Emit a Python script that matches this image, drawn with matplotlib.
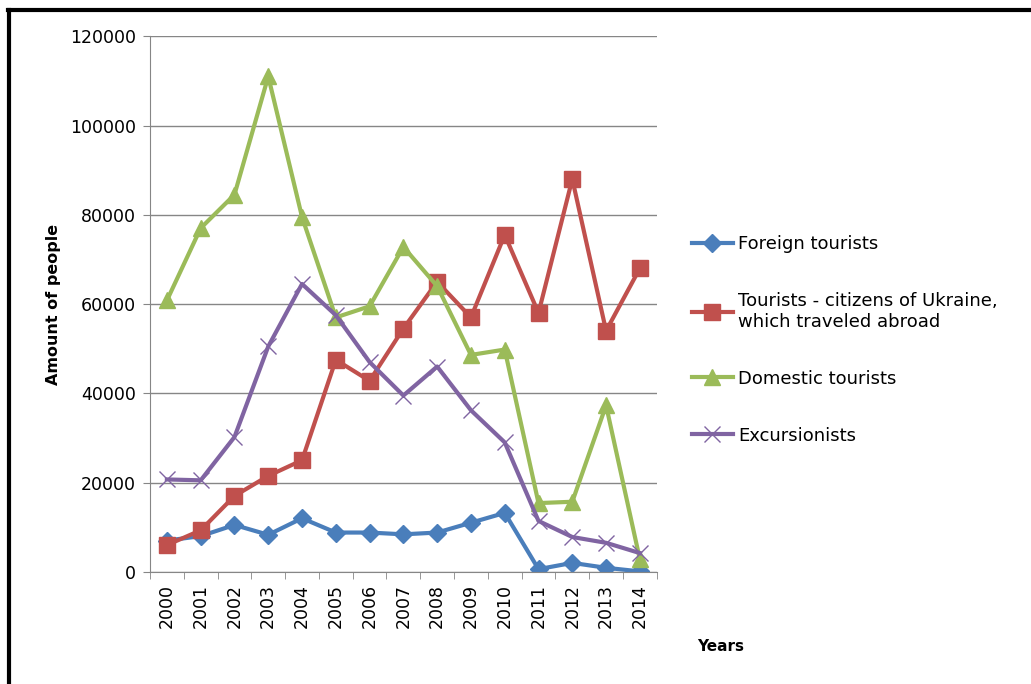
import numpy as np
import matplotlib
matplotlib.use("Agg")
import matplotlib.pyplot as plt
from matplotlib.lines import Line2D

# Data
years = [str(y) for y in range(2000, 2015)]
foreign = [7000, 8000, 10500, 8300, 12000, 8800, 8800, 8400, 8800, 11000, 13200, 600, 2000, 900, 100]
abroad = [6000, 9300, 17000, 21500, 25000, 47500, 42800, 54500, 65000, 57000, 75500, 58000, 88000, 54000, 68000]
domestic = [60800, 77000, 84500, 111000, 79500, 57000, 59500, 72800, 64000, 48600, 49800, 15400, 15700, 37300, 2800]
excursionists = [20700, 20500, 30200, 50500, 64500, 57500, 47000, 39500, 46000, 36200, 29000, 11400, 7800, 6500, 4200]
labels = ["Foreign tourists",
          "Tourists - citizens of Ukraine,\nwhich traveled abroad",
          "Domestic tourists",
          "Excursionists"]

fig = plt.figure(figsize=(10.31, 6.84), dpi=100)
ax = fig.add_axes([0.1455, 0.164, 0.4915, 0.783])

x = np.arange(len(years))
ax.plot(x, foreign, color='#4a7ebb', lw=3, marker='D', ms=9, label=labels[0])
ax.plot(x, abroad, color='#c0504d', lw=3, marker='s', ms=12, label=labels[1])
ax.plot(x, domestic, color='#9bbb59', lw=3, marker='^', ms=12, label=labels[2])
ax.plot(x, excursionists, color='#8064a2', lw=3, marker='x', ms=11, mew=1, label=labels[3])

ax.set_xlim(-0.5, len(years) - 0.5)
ax.set_ylim(0, 120000)
ax.set_yticks(np.arange(0, 120001, 20000))
ax.set_xticks(x)
ax.set_xticklabels(years, rotation=90, fontsize=12.5)
ax.tick_params(axis='x', length=0, pad=9)
ax.set_xticks(np.arange(-0.5, len(years), 1), minor=True)
ax.tick_params(axis='x', which='minor', length=5, color='#868686')
ax.tick_params(axis='y', length=5, color='#868686', labelsize=12.5, pad=5)
ax.grid(axis='y', color='#868686', lw=1)
ax.set_axisbelow(True)
for s in ['top', 'right']:
    ax.spines[s].set_visible(False)
for s in ['left', 'bottom']:
    ax.spines[s].set_color('#868686')

fig.text(0.052, 0.555, 'Amount of people', rotation=90, fontsize=11.5,
         fontweight='bold', ha='center', va='center')
fig.text(0.699, 0.055, 'Years', fontsize=11, fontweight='bold', ha='center', va='center')

handles, _ = ax.get_legend_handles_labels()
leg = fig.legend(handles, labels, loc='center left', bbox_to_anchor=(0.655, 0.503),
                 frameon=False, fontsize=13, handlelength=2.3, labelspacing=2.15,
                 handletextpad=0.3)

# frame lines like the screenshot
fig.add_artist(Line2D([0.008, 1.0], [0.985, 0.985], color='black', lw=3, transform=fig.transFigure))
fig.add_artist(Line2D([0.009, 0.009], [0.0, 0.985], color='black', lw=3, transform=fig.transFigure))

fig.savefig('out.png', dpi=100)
